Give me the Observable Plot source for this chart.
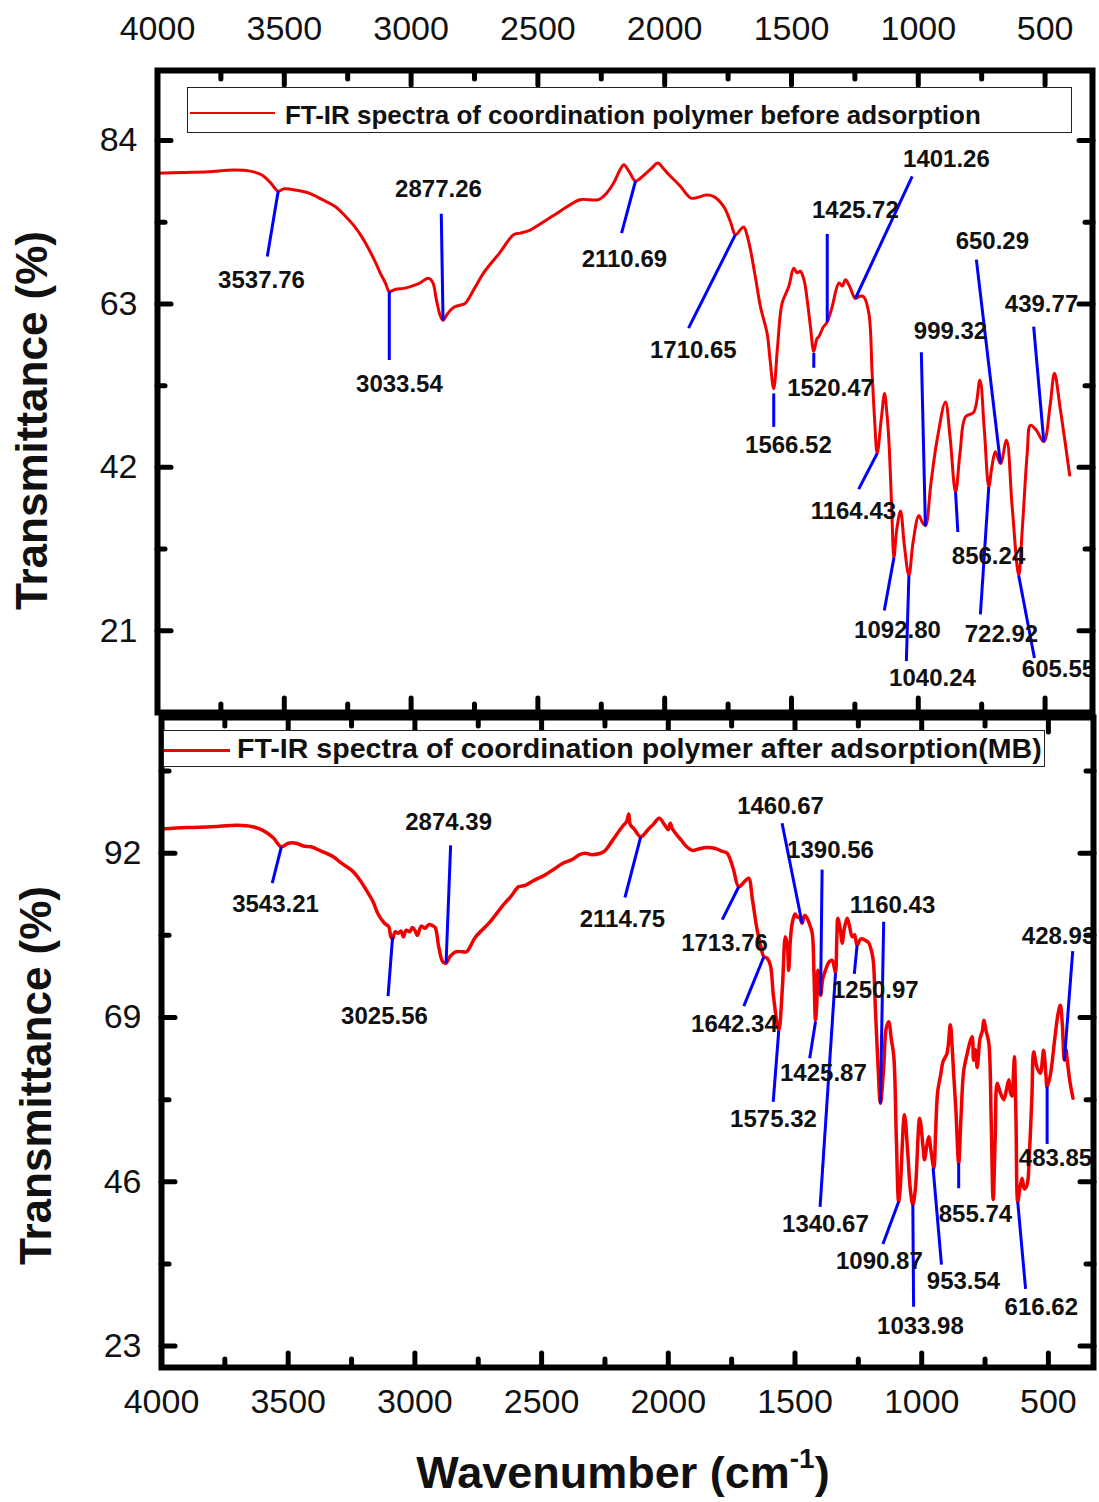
<!DOCTYPE html>
<html><head><meta charset="utf-8">
<script src="https://cdn.jsdelivr.net/npm/d3@7"></script>
<script src="https://cdn.jsdelivr.net/npm/@observablehq/plot@0.6"></script>
<style>
body{margin:0;background:#fff;font-family:"Liberation Sans",Arial,sans-serif;}
#wrap{position:relative;width:1099px;height:1502px;overflow:hidden;background:#fff;}
.panel{position:absolute;left:0;}
.panel svg{background:transparent !important;overflow:visible;}
.legend{position:absolute;border:1.5px solid #222;background:#fff;box-sizing:border-box;font-weight:bold;white-space:nowrap;color:#111;}
.legend .ln{position:absolute;background:#f00000;}
.legend .tx{position:absolute;transform-origin:0 50%;}
#xtitle{position:absolute;left:623px;top:1447px;transform:translateX(-50%);font-weight:bold;font-size:45px;white-space:nowrap;color:#111;}
#xtitle sup{font-size:28px;position:relative;top:-4px;}
</style></head>
<body><div id="wrap">
<div id="p1" class="panel" style="top:0px"></div>
<div id="p2" class="panel" style="top:700px"></div>
<div class="legend" style="left:187px;top:87px;width:885px;height:46px;">
  <div class="ln" style="left:2px;top:24px;width:85px;height:2px;"></div>
  <div class="tx" style="left:97px;top:12px;font-size:25px;line-height:30px;transform:scaleX(1.037);">FT-IR spectra of coordination polymer before adsorption</div>
</div>
<div class="legend" style="left:163px;top:730px;width:882px;height:37px;">
  <div class="ln" style="left:0px;top:18px;width:66px;height:3px;"></div>
  <div class="tx" style="left:73px;top:2px;font-size:27px;line-height:32px;transform:scaleX(1.058);">FT-IR spectra of coordination polymer after adsorption(MB)</div>
</div>
<div id="xtitle">Wavenumber (cm<sup>-1</sup>)</div>
</div>
<script>
// ---- axis ticks ----
const xMajor = [4000, 3500, 3000, 2500, 2000, 1500, 1000, 500];
const xMinor = [3750, 3250, 2750, 2250, 1750, 1250, 750];
const yMajorTop = [21, 42, 63, 84];
const yMinorTop = [31.5, 52.5, 73.5];
const yMajorBot = [23, 46, 69, 92];
const yMinorBot = [34.5, 57.5, 80.5, 103.5];

// ---- spectrum before adsorption: [wavenumber, transmittance] ----
const beforeSpectrum = [
[4000,79.8],[3900,79.9],[3800,80.0],[3700,80.2],[3640,80.1],[3590,79.6],[3555,78.6],[3524,77.5],[3500,77.8],[3450,77.6],
[3400,77.2],[3350,76.4],[3298,75.5],[3260,74.3],[3224,73.0],[3190,71.4],[3166,70.0],[3140,68.3],[3122,67.0],[3100,65.6],
[3086,64.6],[3060,64.9],[3030,65.0],[3006,65.2],[2970,65.6],[2932,66.3],[2915,65.8],[2900,63.5],[2885,61.5],[2874,60.9],
[2855,61.8],[2830,62.6],[2800,62.9],[2786,63.1],[2750,65.0],[2714,67.0],[2650,69.6],[2596,71.9],[2569,72.1],[2530,72.5],
[2494,73.2],[2423,74.7],[2380,75.6],[2334,76.4],[2261,76.4],[2230,77.2],[2202,78.5],[2175,80.3],[2161,80.9],[2140,80.0],
[2115,78.8],[2080,79.6],[2050,80.5],[2027,81.1],[2005,80.4],[1983,79.6],[1940,78.2],[1896,76.6],[1870,76.7],[1837,77.0],
[1806,76.8],[1767,75.5],[1740,73.5],[1721,71.9],[1700,72.6],[1688,72.9],[1675,71.8],[1662,70.0],[1640,66.0],[1622,62.6],
[1596,59.2],[1585,56.0],[1570,52.1],[1555,57.5],[1537,63.1],[1511,65.2],[1491,67.6],[1478,67.0],[1465,67.2],[1450,66.0],
[1438,63.5],[1425,60.0],[1412,56.9],[1400,58.5],[1392,58.8],[1375,60.0],[1359,60.7],[1340,62.6],[1313,65.7],[1300,65.3],
[1287,66.1],[1270,65.2],[1248,63.7],[1230,64.0],[1215,63.9],[1195,61.8],[1182,54.1],[1172,48.0],[1162,43.8],[1145,48.5],
[1133,51.5],[1124,49.0],[1116,45.5],[1105,37.0],[1096,30.4],[1085,34.0],[1070,36.4],[1055,32.0],[1037,28.1],[1020,32.5],
[998,35.8],[985,35.0],[972,34.5],[950,40.0],[926,45.5],[893,50.4],[875,46.0],[853,38.8],[835,44.0],[814,48.5],
[781,49.1],[757,53.2],[740,47.0],[722,39.5],[710,42.0],[696,44.0],[676,42.5],[652,45.5],[630,37.0],[604,28.1],
[590,34.0],[570,44.0],[558,47.4],[535,46.8],[505,45.3],[480,50.0],[463,54.1],[440,49.5],[420,45.0],[403,41.0]
];

// ---- spectrum after adsorption (MB) ----
const afterSpectrum = [
[4000,95.4],[3900,95.6],[3800,95.7],[3700,95.9],[3640,95.7],[3600,95.2],[3560,94.2],[3527,92.9],[3500,93.4],[3468,93.4],
[3440,93.0],[3410,92.9],[3370,92.3],[3322,91.5],[3290,90.6],[3249,89.6],[3220,88.4],[3191,86.8],[3165,85.2],[3147,83.6],
[3120,82.2],[3103,81.7],[3095,80.3],[3088,80.0],[3078,81.0],[3065,80.8],[3055,81.1],[3045,80.3],[3035,81.2],[3020,81.0],
[3010,81.6],[3000,81.2],[2990,80.5],[2975,81.8],[2960,81.5],[2945,82.0],[2932,81.9],[2920,81.6],[2906,78.9],[2890,76.8],
[2877,76.6],[2860,77.6],[2840,78.2],[2810,78.2],[2796,78.2],[2760,80.3],[2708,82.2],[2650,84.8],[2620,86.0],[2591,87.3],
[2565,87.5],[2530,88.2],[2489,88.9],[2450,89.8],[2416,90.6],[2380,91.1],[2350,91.8],[2328,92.0],[2300,91.8],[2255,92.2],
[2220,93.8],[2182,95.7],[2165,96.4],[2156,97.5],[2150,96.0],[2135,95.4],[2109,94.3],[2080,95.3],[2060,96.0],[2036,96.9],
[2015,96.0],[2000,95.3],[1992,96.2],[1985,95.5],[1965,94.5],[1948,93.8],[1930,93.0],[1905,92.4],[1880,92.6],[1850,92.8],
[1817,92.7],[1790,92.3],[1768,92.0],[1745,90.0],[1722,87.3],[1700,88.0],[1683,88.5],[1668,85.5],[1649,81.2],[1635,79.0],
[1623,77.5],[1610,77.3],[1597,76.3],[1585,72.0],[1564,67.2],[1550,73.0],[1538,80.3],[1530,79.0],[1525,75.6],[1518,80.0],
[1511,82.2],[1500,83.5],[1492,83.1],[1482,83.0],[1472,82.2],[1462,83.3],[1452,82.9],[1442,82.0],[1432,80.8],[1425,75.0],
[1419,68.6],[1414,71.0],[1410,75.6],[1405,74.5],[1399,72.1],[1390,74.5],[1380,75.6],[1365,76.8],[1353,77.0],[1345,76.0],
[1340,75.2],[1335,80.0],[1331,82.9],[1320,81.0],[1314,79.4],[1305,81.5],[1294,82.9],[1285,81.8],[1274,80.3],[1265,80.6],
[1255,79.1],[1240,80.0],[1222,79.8],[1210,79.5],[1196,78.0],[1190,76.5],[1183,70.5],[1172,62.0],[1163,57.0],[1150,62.0],
[1140,67.5],[1130,68.4],[1120,66.0],[1110,63.5],[1100,52.0],[1091,43.2],[1085,45.0],[1068,55.4],[1055,50.0],[1045,45.0],
[1035,42.8],[1025,45.0],[1008,54.9],[995,51.0],[989,49.1],[980,51.0],[972,52.3],[962,50.0],[952,47.9],[945,53.0],
[937,58.6],[925,61.0],[916,62.8],[900,64.0],[887,68.0],[880,65.0],[874,61.2],[865,56.0],[854,48.6],[845,55.0],
[834,61.6],[820,64.0],[810,65.5],[801,66.3],[795,63.0],[788,64.5],[781,62.0],[770,66.0],[760,67.2],[755,68.6],
[745,67.0],[735,65.4],[726,55.0],[718,43.5],[710,52.0],[702,59.8],[690,58.5],[676,57.5],[665,59.0],[656,60.3],
[650,58.5],[643,58.0],[638,61.0],[634,63.5],[628,55.0],[621,43.2],[613,45.0],[604,46.5],[595,45.0],[584,45.6],
[575,50.0],[565,58.0],[558,64.2],[545,62.0],[532,61.2],[519,64.4],[510,61.0],[505,59.3],[492,61.0],[475,66.0],
[462,69.5],[453,70.7],[445,68.0],[437,63.0],[430,64.5],[427,63.5],[415,60.0],[403,57.7]
];

// ---- peak annotations: label, line start (on curve), line end, label position ----
const topPeakLabels = ["3537.76","3033.54","2877.26","2110.69","1710.65","1566.52","1520.47","1425.72","1401.26","1164.43","1092.80","1040.24","999.32","856.24","722.92","650.29","605.55","439.77"];
const topLineFrom = [[3524,77.5],[3086,64.6],[2874,60.9],[2115,78.8],[1721,71.9],[1570,51.5],[1412,56.7],[1359,60.7],[1248,63.7],[1162,43.8],[1096,30.4],[1037,28.1],[972,34.5],[853,38.8],[722,39.5],[676,42.5],[604,28.1],[505,45.3]];
const topLineTo = [[3567,69.1],[3086,55.8],[2881,74.6],[2170,72.1],[1906,59.9],[1570,47.2],[1412,54.8],[1359,72.0],[1024,79.4],[1235,39.2],[1134,23.6],[1047,17.1],[988,56.8],[844,33.7],[755,23.1],[771,68.7],[542,17.5],[545,60.1]];
const topLabelAt = [[3590,66.0],[3046,52.7],[2892,77.7],[2159,68.8],[1887,57.1],[1512,44.8],[1346,52.2],[1248,75.0],[889,81.6],[1256,36.4],[1082,21.0],[944,14.9],[873,59.5],[723,30.6],[672,20.6],[708,71.1],[447,16.0],[514,63.0]];

const botPeakLabels = ["3543.21","3025.56","2874.39","2114.75","1713.76","1642.34","1575.32","1460.67","1390.56","1425.87","1340.67","1250.97","1160.43","1090.87","1033.98","953.54","855.74","616.62","483.85","428.93"];
const botLineFrom = [[3527,92.9],[3088,80.3],[2877,76.6],[2109,94.3],[1722,87.3],[1623,77.5],[1564,67.2],[1472,82.2],[1399,72.1],[1419,68.4],[1340,75.2],[1255,79.1],[1163,57.0],[1091,43.2],[1035,42.8],[955,47.9],[854,48.6],[621,43.2],[505,59.3],[437,63.0]];
const botLineTo = [[3563,87.8],[3106,72.0],[2859,93.1],[2171,85.8],[1787,82.7],[1702,70.6],[1586,57.2],[1551,96.2],[1393,89.7],[1442,63.3],[1401,42.5],[1266,75.1],[1150,82.4],[1153,37.3],[1032,28.5],[922,34.4],[854,45.1],[590,31.0],[505,51.3],[404,78.3]];
const botLabelAt = [[3550,84.9],[3120,69.1],[2867,96.3],[2181,82.8],[1778,79.4],[1739,68.1],[1585,54.7],[1557,98.6],[1360,92.4],[1388,61.2],[1380,40.1],[1183,72.8],[1115,84.7],[1167,34.8],[1005,25.8],[835,32.1],[788,41.4],[528,28.4],[472,49.3],[460,80.3]];

const yTitle = "Transmittance (%)";

function buildAnn(labels, from, to, at) {
  return labels.map((l, i) => ({label: l, x1: from[i][0], y1: from[i][1], x2: to[i][0], y2: to[i][1], lx: at[i][0], ly: at[i][1]}));
}
function buildSeries(arr) { return arr.map(([w, t]) => ({w, t})); }

function tickAxes(anchorX, anchorsY, yMaj, yMin) {
  const common = {stroke: "black", strokeLinecap: "round", tickFormat: () => "", label: null};
  const m = [];
  for (const a of anchorX) {
    m.push(Plot.axisX({...common, anchor: a, ticks: xMajor, tickSize: -14, strokeWidth: 5}));
    m.push(Plot.axisX({...common, anchor: a, ticks: xMinor, tickSize: -8, strokeWidth: 5}));
  }
  for (const a of anchorsY) {
    m.push(Plot.axisY({...common, anchor: a, ticks: yMaj, tickSize: -14, strokeWidth: 5}));
    m.push(Plot.axisY({...common, anchor: a, ticks: yMin, tickSize: -8, strokeWidth: 5}));
  }
  return m;
}

const font = "'Liberation Sans', Arial, sans-serif";

function panel({series, ann, xDomain, yDomain, yMaj, yMin, height, mt, mb, ml, mr, xLabelsAt, lineWidth, titleDy}) {
  const xs = buildSeries(series);
  const marks = [
    ...tickAxes(["top", "bottom"], ["left", "right"], yMaj, yMin),
    Plot.text(xMajor, {x: d => d, frameAnchor: xLabelsAt, lineAnchor: "middle", dy: xLabelsAt === "top" ? -41 : 35, text: d => String(d), fontSize: 34, fill: "#111"}),
    Plot.text(yMaj, {y: d => d, frameAnchor: "left", dx: -20, textAnchor: "end", lineAnchor: "middle", text: d => String(d), fontSize: 34, fill: "#111"}),
    Plot.text([yTitle], {frameAnchor: "left", dx: -125, dy: titleDy, rotate: -90, textAnchor: "middle", lineAnchor: "middle", text: d => d, fontSize: 44, fontWeight: "bold", fill: "#111"}),
    Plot.line(xs, {x: "w", y: "t", stroke: "#f00000", strokeWidth: lineWidth, curve: "catmull-rom"}),
    Plot.link(ann, {x1: "x1", y1: "y1", x2: "x2", y2: "y2", stroke: "#0000ff", strokeWidth: 3}),
    Plot.text(ann, {x: "lx", y: "ly", text: "label", fontSize: 24, fontWeight: "bold", fill: "#111"}),
    Plot.frame({stroke: "black", strokeWidth: 6})
  ];
  return Plot.plot({
    width: 1099, height, marginTop: mt, marginBottom: mb, marginLeft: ml, marginRight: mr,
    style: {fontFamily: font, background: "transparent", overflow: "visible"},
    x: {domain: xDomain},
    y: {domain: yDomain},
    marks
  });
}

document.getElementById("p1").appendChild(panel({
  series: beforeSpectrum, ann: buildAnn(topPeakLabels, topLineFrom, topLineTo, topLabelAt),
  xDomain: [4000, 313], yDomain: [10.5, 93], yMaj: yMajorTop, yMin: yMinorTop,
  height: 716, mt: 70, mb: 4, ml: 157, mr: 7, xLabelsAt: "top", lineWidth: 3, titleDy: 29
}));
document.getElementById("p2").appendChild(panel({
  series: afterSpectrum, ann: buildAnn(botPeakLabels, botLineFrom, botLineTo, botLabelAt),
  xDomain: [4000, 322], yDomain: [20, 111], yMaj: yMajorBot, yMin: yMinorBot,
  height: 802, mt: 17, mb: 135, ml: 161, mr: 6, xLabelsAt: "bottom", lineWidth: 3.5, titleDy: 33
}));
</script>
</body></html>
